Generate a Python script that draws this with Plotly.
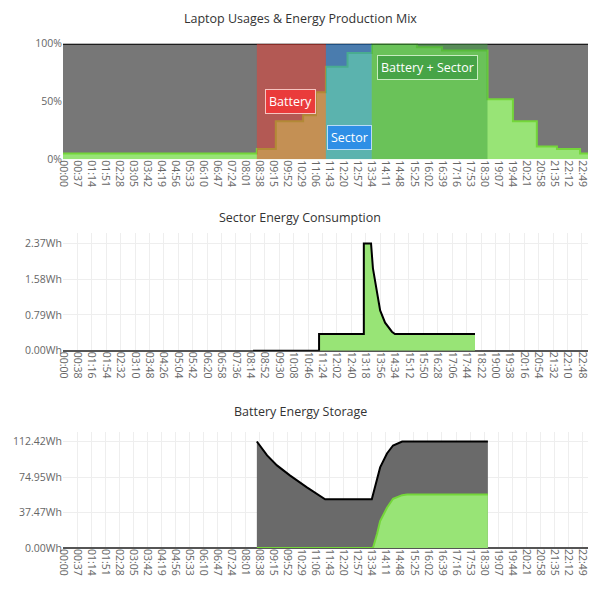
import plotly.graph_objects as go

# ---------------- data ----------------
# Tick labels (time of day)
ticks_37 = ["00:00", "00:37", "01:14", "01:51", "02:28", "03:05", "03:42", "04:19", "04:56",
            "05:33", "06:10", "06:47", "07:24", "08:01", "08:38", "09:15", "09:52", "10:29",
            "11:06", "11:43", "12:20", "12:57", "13:34", "14:11", "14:48", "15:25", "16:02",
            "16:39", "17:16", "17:53", "18:30", "19:07", "19:44", "20:21", "20:58", "21:35",
            "22:12", "22:49"]
ticks_38 = ["00:00", "00:38", "01:16", "01:54", "02:32", "03:10", "03:48", "04:26", "05:04",
            "05:42", "06:20", "06:58", "07:36", "08:14", "08:52", "09:30", "10:08", "10:46",
            "11:24", "12:02", "12:40", "13:18", "13:56", "14:34", "15:12", "15:50", "16:28",
            "17:06", "17:44", "18:22", "19:00", "19:38", "20:16", "20:54", "21:32", "22:10",
            "22:48"]

# Top chart: energy production mix (minutes since midnight, step values in %)
mix_times = [0, 511, 561, 633, 667, 693, 750, 814, 933, 999, 1119, 1186, 1249, 1302, 1363, 1440]
mix_production = [5, 9, 33, 38, 58, 80, 92, 100, 97, 94, 52, 33, 11, 9, 5, 5]
mix_grid = [95, 91, 67, 62, 42, 20, 8, 0, 3, 6, 48, 67, 89, 91, 95, 95]

# Source periods
source_labels = ["Battery", "Sector", "Battery + Sector"]
source_start = [511, 693, 814]
source_end = [693, 814, 1119]

# Middle chart: sector energy consumption (Wh)
sector_times = [501, 675, 675, 793, 793, 812, 817, 828, 836, 849, 867, 875, 1086]
sector_wh = [0, 0, 0.37, 0.37, 2.37, 2.37, 1.82, 1.22, 0.89, 0.62, 0.42, 0.37, 0.37]
sector_ticks = [0, 0.79, 1.58, 2.37]

# Bottom chart: battery energy storage (Wh)
battery_times = [511, 538, 564, 598, 643, 691, 814, 828, 836, 854, 870, 894, 1120]
battery_total = [112.42, 97.7, 87.2, 76.7, 64.1, 51.5, 51.5, 71.4, 85.1, 99.8, 108.2, 112.42, 112.42]
charge_times = [511, 817, 828, 836, 854, 870, 894, 907, 1120]
charge_wh = [0, 0, 15.0, 28.5, 42.5, 52.0, 55.8, 56.5, 56.5]
battery_ticks = [0, 37.47, 74.95, 112.42]


def to_min(s):
    h, m = s.split(":")
    return int(h) * 60 + int(m)


# ---------------- style ----------------
FONT = "Open Sans"
GREY_TOP = "#777777"
GREY_BOT = "#6a6a6a"
LIGHT_GREEN = "#98e476"
LIME = "#74d63a"
source_fill = ["rgba(240,60,50,0.5)", "rgba(30,130,230,0.5)", "rgba(60,160,60,0.5)"]
source_box = ["#ea3b3b", "#2e8fe6", "#47a447"]
source_border = ["#f6c4c0", "#b9dcf6", "#c8ecc0"]
label_x = [600, 755, 961]
label_y = [50, 19, 79]

# page has an 8px body margin: figure coordinates = screen - 8
W, H = 588, 580
OFF = 8
L = 63 - OFF
X_RANGE = [0, 1405]


def py(px):
    # screen y (target) -> paper fraction, with empirical vertical correction
    spec = (px - 5.4) / 0.979
    return 1 - (spec - OFF) / H


fig = go.Figure()

# --- top: production mix ---
fig.add_trace(go.Scatter(x=mix_times, y=mix_production, stackgroup="mix", line_shape="hv",
                         mode="lines", line=dict(color=LIME, width=2), fillcolor=LIGHT_GREEN,
                         xaxis="x", yaxis="y", hoverinfo="skip", showlegend=False))
fig.add_trace(go.Scatter(x=mix_times, y=mix_grid, stackgroup="mix", line_shape="hv",
                         mode="lines", line=dict(color="black", width=2), fillcolor=GREY_TOP,
                         xaxis="x", yaxis="y", hoverinfo="skip", showlegend=False))

# --- middle: sector consumption ---
fig.add_trace(go.Scatter(x=sector_times, y=sector_wh, fill="tozeroy", fillcolor=LIGHT_GREEN,
                         mode="lines", line=dict(color="black", width=2), xaxis="x2", yaxis="y2",
                         hoverinfo="skip", showlegend=False))

# --- bottom: battery storage ---
fig.add_trace(go.Scatter(x=battery_times, y=battery_total, fill="tozeroy", fillcolor=GREY_BOT,
                         mode="lines", line=dict(color="black", width=2), xaxis="x3", yaxis="y3",
                         hoverinfo="skip", showlegend=False))
fig.add_trace(go.Scatter(x=charge_times, y=charge_wh, fill="tozeroy", fillcolor=LIGHT_GREEN,
                         mode="lines", line=dict(color=LIME, width=2), xaxis="x3", yaxis="y3",
                         hoverinfo="skip", showlegend=False))

shapes = []
annotations = []
for lab, x0, x1, fc, bc, brd, lx, ly in zip(source_labels, source_start, source_end,
                                           source_fill, source_box, source_border,
                                           label_x, label_y):
    shapes.append(dict(type="rect", xref="x", yref="y", x0=x0, x1=x1, y0=0, y1=100,
                       fillcolor=fc, line=dict(width=0), layer="above"))
    annotations.append(dict(x=lx, y=ly, xref="x", yref="y", text=lab, showarrow=False,
                            font=dict(family=FONT, size=12.5, color="white"),
                            bgcolor=bc, bordercolor=brd, borderwidth=1, borderpad=3))

title_x = (300 - 63) / (596 - 63)
for text, ypx in [("Laptop Usages & Energy Production Mix", 17),
                  ("Sector Energy Consumption", 216),
                  ("Battery Energy Storage", 411)]:
    annotations.append(dict(x=title_x, y=py(ypx), xref="paper", yref="paper", text=text,
                            showarrow=False, xanchor="center", yanchor="middle",
                            font=dict(family=FONT, size=12.5, color="#333")))

tick_font = dict(family=FONT, size=10.5, color="#666")
xcommon = dict(range=X_RANGE, tickangle=90, tickfont=tick_font, showgrid=True,
               gridcolor="#eeeeee", zeroline=False, showline=False, ticks="", fixedrange=True)

fig.update_layout(
    width=W, height=H,
    margin=dict(l=L, r=0, t=0, b=0),
    paper_bgcolor="white", plot_bgcolor="white",
    font=dict(family=FONT),
    xaxis=dict(domain=[0, 1], anchor="y", tickmode="array",
               tickvals=[to_min(t) for t in ticks_37], ticktext=ticks_37, **xcommon),
    yaxis=dict(domain=[py(158), py(42)], anchor="x", range=[0, 100], tickmode="array",
               tickvals=[0, 50, 100], ticktext=["0%", "50%", "100%"], tickfont=tick_font,
               showgrid=True, gridcolor="#eeeeee", zeroline=False),
    xaxis2=dict(domain=[0, 1], anchor="y2", tickmode="array",
                tickvals=[to_min(t) for t in ticks_38], ticktext=ticks_38, **xcommon),
    yaxis2=dict(domain=[py(350), py(232)], anchor="x2", range=[0, 2.6], tickmode="array",
                tickvals=sector_ticks, ticktext=[f"{v:.2f}Wh" for v in sector_ticks],
                tickfont=tick_font, showgrid=True, gridcolor="#eeeeee",
                zeroline=True, zerolinecolor="#555", zerolinewidth=2),
    xaxis3=dict(domain=[0, 1], anchor="y3", tickmode="array",
                tickvals=[to_min(t) for t in ticks_37], ticktext=ticks_37, **xcommon),
    yaxis3=dict(domain=[py(548), py(432)], anchor="x3", range=[0, 122], tickmode="array",
                tickvals=battery_ticks, ticktext=[f"{v:.2f}Wh" for v in battery_ticks],
                tickfont=tick_font, showgrid=True, gridcolor="#eeeeee",
                zeroline=True, zerolinecolor="#555", zerolinewidth=2),
    shapes=shapes,
    annotations=annotations,
)

fig.write_html("out.html")
